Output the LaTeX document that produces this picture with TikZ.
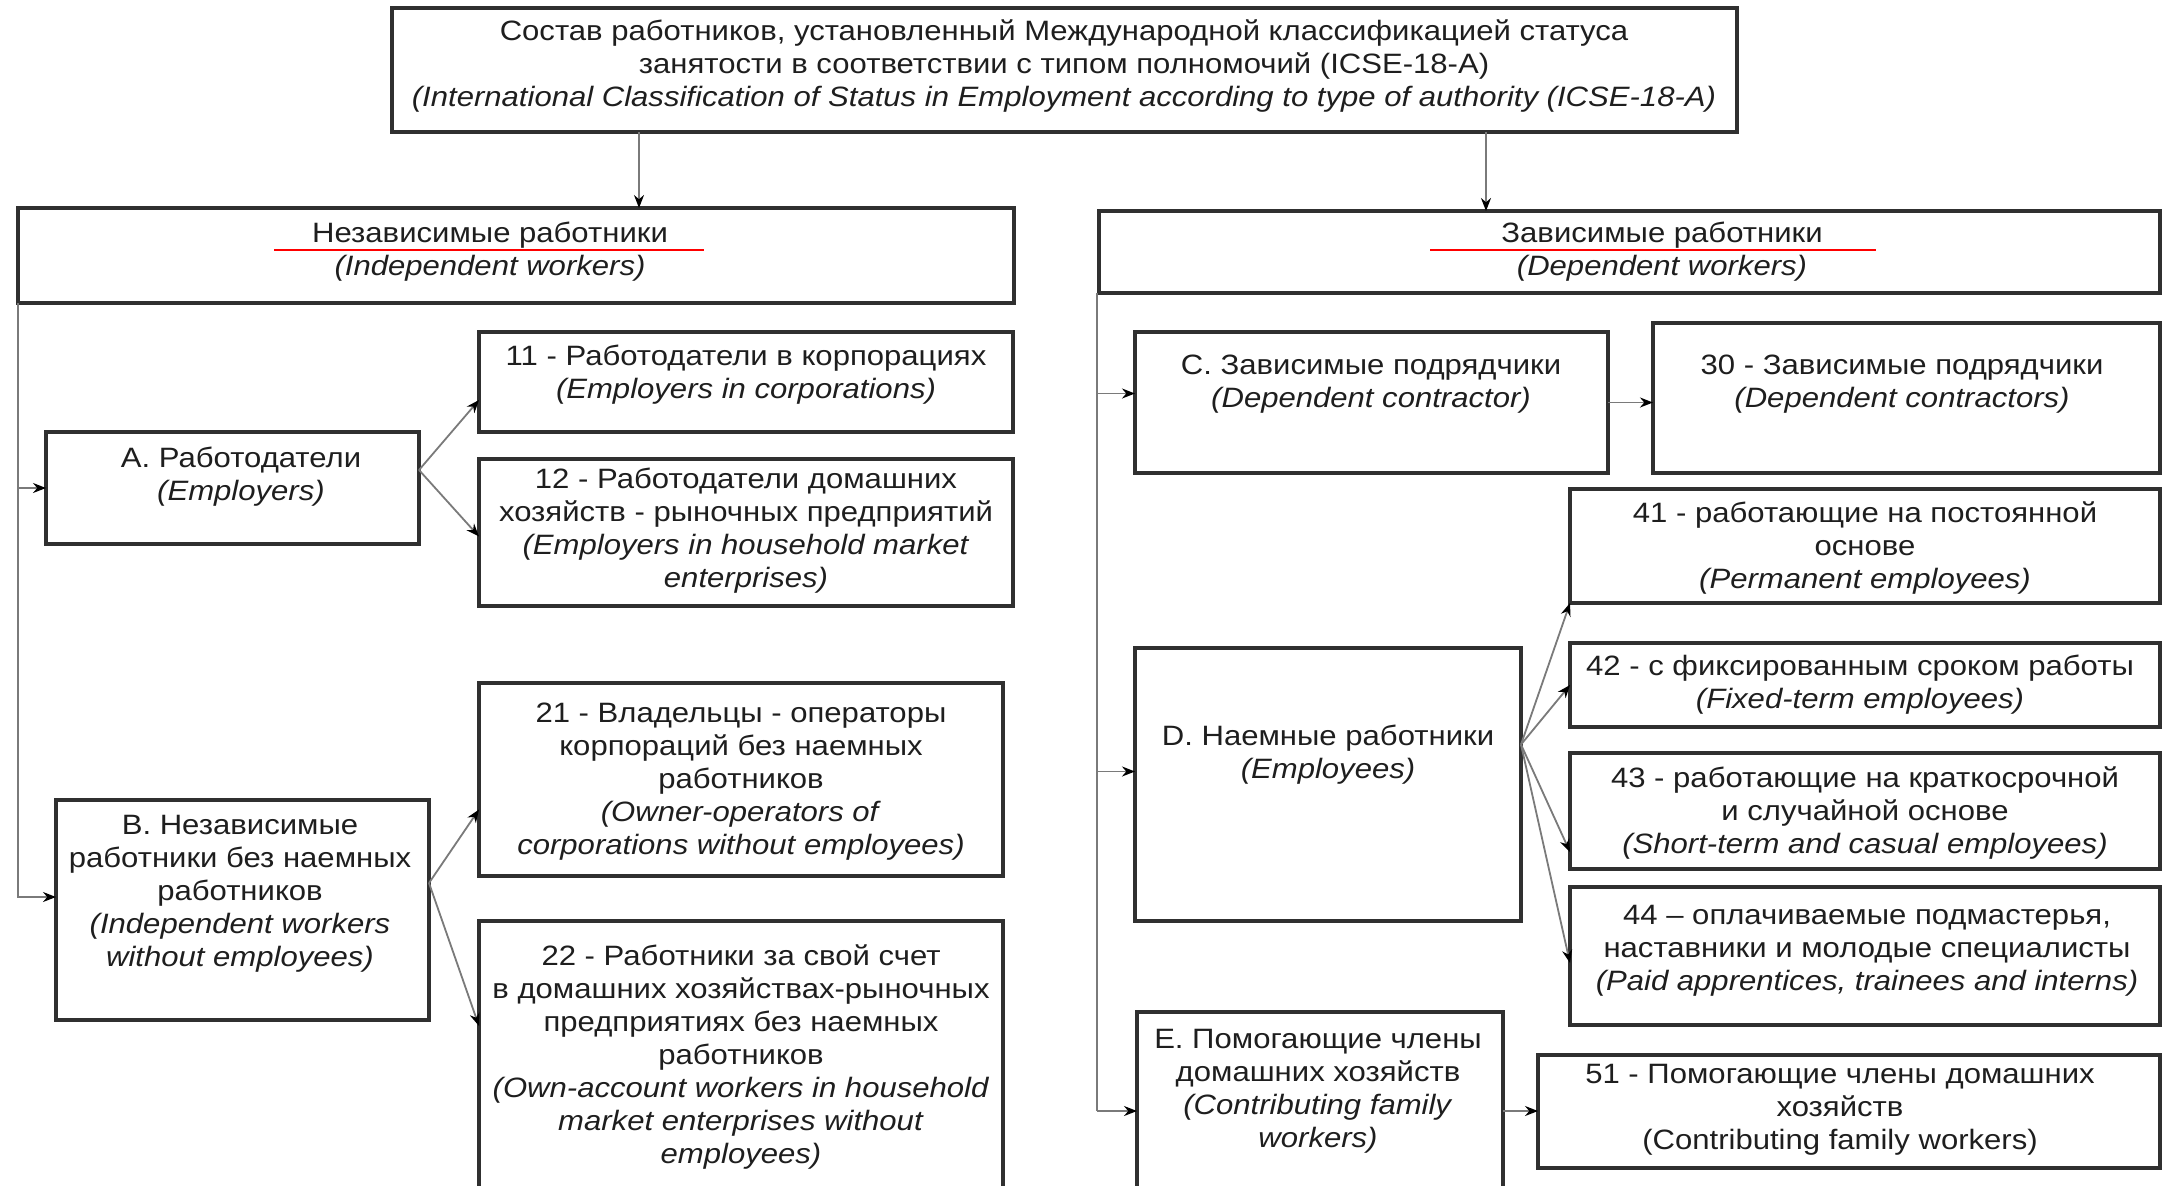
\documentclass[tikz,border=0pt]{standalone}
\usepackage{fontspec}
\setmainfont{Liberation Sans}[FakeStretch=1.11]
\usetikzlibrary{arrows.meta,fit,calc}
\definecolor{boxc}{HTML}{303030}
\definecolor{linec}{HTML}{7A7A7A}
\definecolor{txtc}{HTML}{1E1E1E}
\begin{document}
\begin{tikzpicture}[x=0.5pt,y=-0.5pt,
  box/.style={draw=boxc, line width=1.8pt, inner sep=0pt, outer sep=0pt},
  txt/.style={align=center, font=\fontsize{14}{16.5}\selectfont, text=txtc, inner sep=0pt},
  conn/.style={draw=linec, line width=0.9pt, -{Stealth[length=6.5pt,width=5pt,black]}},
  plainline/.style={draw=linec, line width=0.9pt},
  redline/.style={draw=red, line width=1.2pt}
]
\useasboundingbox (0,0) rectangle (2163,1185);
\clip (0,0) rectangle (2163,1185);

% boxes
\node[box, fit={(392,8)(1737,132)}] (top) {};
\node[box, fit={(18,208)(1014,303)}] (lh) {};
\node[box, fit={(1099,211)(2160,293)}] (rh) {};
\node[box, fit={(46,432)(419,544)}] (A) {};
\node[box, fit={(479,332)(1013,432)}] (b11) {};
\node[box, fit={(479,459)(1013,606)}] (b12) {};
\node[box, fit={(56,800)(429,1020)}] (B) {};
\node[box, fit={(479,683)(1003,876)}] (b21) {};
\node[box, fit={(479,921)(1003,1210)}] (b22) {};
\node[box, fit={(1135,332)(1608,473)}] (C) {};
\node[box, fit={(1653,323)(2160,473)}] (b30) {};
\node[box, fit={(1570,489)(2160,603)}] (b41) {};
\node[box, fit={(1570,643)(2160,727)}] (b42) {};
\node[box, fit={(1570,753)(2160,869)}] (b43) {};
\node[box, fit={(1570,887)(2160,1025)}] (b44) {};
\node[box, fit={(1135,648)(1521,921)}] (D) {};
\node[box, fit={(1137,1012)(1503,1210)}] (E) {};
\node[box, fit={(1538,1055)(2160,1168)}] (b51) {};

% texts
\node[txt] (ttop) at (1064,66) {Состав работников, установленный Международной классификацией статуса\\занятости в соответствии с типом полномочий (ICSE-18-A)\\\textit{(International Classification of Status in Employment according to type of authority (ICSE-18-A)}};
\node[txt] (tlh) at (490,252) {Независимые работники\\\textit{(Independent workers)}};
\node[txt] (trh) at (1662,252) {Зависимые работники\\\textit{(Dependent workers)}};
\node[txt] (tA) at (241,477) {A. Работодатели\\\textit{(Employers)}};
\node[txt] (t11) at (746,375) {11 - Работодатели в корпорациях\\\textit{(Employers in corporations)}};
\node[txt] (t12) at (746,531) {12 - Работодатели домашних\\хозяйств - рыночных предприятий\\\textit{(Employers in household market}\\\textit{enterprises)}};
\node[txt] (tB) at (240,894) {B. Независимые\\работники без наемных\\работников\\\textit{(Independent workers}\\\textit{without employees)}};
\node[txt] (t21) at (741,782) {21 - Владельцы - операторы\\корпораций без наемных\\работников\\\textit{(Owner-operators of}\\\textit{corporations without employees)}};
\node[txt] (t22) at (741,1057) {22 - Работники за свой счет\\в домашних хозяйствах-рыночных\\предприятиях без наемных\\работников\\\textit{(Own-account workers in household}\\\textit{market enterprises without}\\\textit{employees)}};
\node[txt] (tC) at (1371,384) {C. Зависимые подрядчики\\\textit{(Dependent contractor)}};
\node[txt] (t30) at (1902,384) {30 - Зависимые подрядчики\\\textit{(Dependent contractors)}};
\node[txt] (t41) at (1865,548) {41 - работающие на постоянной\\основе\\\textit{(Permanent employees)}};
\node[txt] (t42) at (1860,685) {42 - с фиксированным сроком работы\\\textit{(Fixed-term employees)}};
\node[txt] (t43) at (1865,813) {43 - работающие на краткосрочной\\и случайной основе\\\textit{(Short-term and casual employees)}};
\node[txt] (t44) at (1867,951) {44 – оплачиваемые подмастерья,\\наставники и молодые специалисты\\\textit{(Paid apprentices, trainees and interns)}};
\node[txt] (tD) at (1328,755) {D. Наемные работники\\\textit{(Employees)}};
\node[txt] (tE) at (1318,1091) {E. Помогающие члены\\домашних хозяйств\\\textit{(Contributing family}\\\textit{workers)}};
\node[txt] (t51) at (1840,1110) {51 - Помогающие члены домашних\\хозяйств\\(Contributing family workers)};

% red underlines
\draw[redline] (274,250) -- (704,250);
\draw[redline] (1430,250) -- (1876,250);

% coordinates for routing
\coordinate (tl) at (639,0);
\coordinate (tr) at (1486,0);
\coordinate (spL) at (18,0);
\coordinate (spR) at (1097,0);

% connectors from top
\draw[conn] (top.south -| tl) -- (lh.north -| tl);
\draw[conn] (top.south -| tr) -- (rh.north -| tr);

% left spine
\draw[plainline] (lh.south -| spL) -- (spL |- A.west);
\draw[conn] (spL |- A.west) -- (A.west);
\draw[conn] (lh.south -| spL) |- ($(B.west)+(0,-13)$);

% A and B branches
\draw[conn] ($(A.east)+(0,-18)$) -- ($(b11.west)+(0,18)$);
\draw[conn] ($(A.east)+(0,-18)$) -- ($(b12.west)+(0,4)$);
\draw[conn] ($(B.east)+(0,-27)$) -- ($(b21.west)+(0,30)$);
\draw[conn] ($(B.east)+(0,-27)$) -- ($(b22.north west)+(0,105)$);

% right spine
\draw[plainline] (rh.south -| spR) -- ($(E.north west -| spR)+(0,99)$);
\draw[conn] ($(C.west -| spR)+(0,-9)$) -- ($(C.west)+(0,-9)$);
\draw[conn] ($(D.west -| spR)+(0,-13)$) -- ($(D.west)+(0,-13)$);
\draw[conn] ($(E.north west -| spR)+(0,99)$) -- ($(E.north west)+(0,99)$);

% C, D, E branches
\draw[conn] (C.east) -- (C.east -| b30.west);
\draw[conn] ($(D.east)+(0,-40)$) -- (b41.south west);
\draw[conn] ($(D.east)+(0,-40)$) -- (b42.west);
\draw[conn] ($(D.east)+(0,-40)$) -- ($(b43.south west)+(0,-17)$);
\draw[conn] ($(D.east)+(0,-40)$) -- ($(b44.west)+(0,7)$);
\draw[conn] ($(E.north west)+(366,99)$) -- (b51.west |- {$(E.north west)+(0,99)$});
\end{tikzpicture}
\end{document}
